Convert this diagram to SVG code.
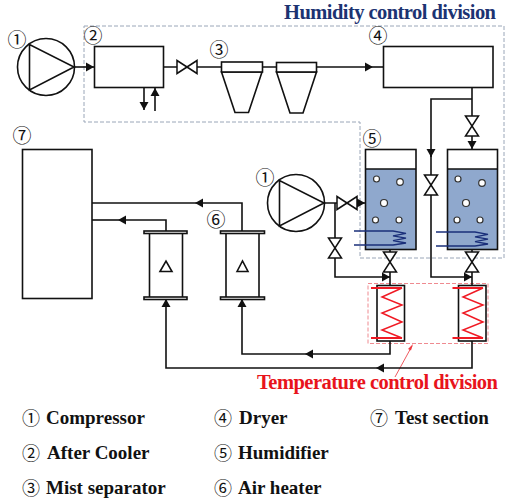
<svg xmlns="http://www.w3.org/2000/svg" width="505" height="501" viewBox="0 0 505 501">
<defs>
<style>
.s{fill:none;stroke:#111;stroke-width:1.6}
.w{fill:#fff;stroke:#111;stroke-width:1.6}
.b{fill:#fff;stroke:#333;stroke-width:1.2}
.n{font-family:"Noto Sans CJK JP","DejaVu Sans",sans-serif;font-size:19px;fill:#111;text-anchor:middle}
.t{font-family:"Liberation Serif",serif;font-weight:bold;font-size:19px;fill:#111}
.ln{font-family:"Noto Sans CJK JP","DejaVu Sans",sans-serif;font-size:18px;fill:#111}
.rb{stroke:#f01a24;stroke-width:2}
</style>
<marker id="a" markerWidth="9" markerHeight="10" refX="8" refY="5" orient="auto" markerUnits="userSpaceOnUse"><path d="M0,0.500L8,5L0,9.500Z" fill="#111"/></marker>
<path id="vh" d="M-10,-6.5L10,6.5V-6.5L-10,6.5Z" fill="#fff" stroke="#111" stroke-width="1.5"/>
<path id="vv" d="M-6.5,-10L6.5,10H-6.5L6.5,-10Z" fill="#fff" stroke="#111" stroke-width="1.5"/>
<path id="z" d="M0,0L-20,9L0,17L-20,25L0,34L-20,42L0,50" fill="none" stroke="#f01a24" stroke-width="1.5"/>
<path id="coil" d="M0,0H39L52,2.4L39,4.8L52,7.2L39,9.6L52,12L39,14H0" fill="none" stroke="#1a2f7a" stroke-width="1.3"/>
</defs>
<rect width="505" height="501" fill="#fff"/>
<g id="divisions">
<path d="M84,26H504V258H360V122H84Z" fill="none" stroke="#9aa6b8" stroke-width="1" stroke-dasharray="4 2"/>
<rect x="368" y="283.500" width="120" height="60" fill="none" stroke="#ef8a90" stroke-width="1" stroke-dasharray="4 2"/>
<path d="M395,377L412,346" fill="none" stroke="#ef5a60" stroke-width="1"/>
<path d="M413,344L411,350.500L408,349Z" fill="#ef3a40"/>
</g>
<g id="connectors">
<path class="s" d="M74,67H94" marker-end="url(#a)"/>
<path class="s" d="M163,67H177M197,67H221M262,67H276"/>
<path class="s" d="M144,87V110" marker-end="url(#a)"/>
<path class="s" d="M155,111V88" marker-end="url(#a)"/>
<path class="s" d="M316,67H373" marker-end="url(#a)"/>
<path class="s" d="M373,67H383"/>
<path class="s" d="M472,87V149" marker-end="url(#a)"/>
<path class="s" d="M472,99H431V157" marker-end="url(#a)"/>
<path class="s" d="M431,155V277H472" marker-end="url(#a)"/>
<path class="s" d="M324,203H365" marker-end="url(#a)"/>
<path class="s" d="M335,203V277H390" marker-end="url(#a)"/>
<path class="s" d="M390,250V285M472,250V285"/>
<path class="s" d="M242,232V203H195" marker-end="url(#a)"/>
<path class="s" d="M195,203H92"/>
<path class="s" d="M166,232V220H118" marker-end="url(#a)"/>
<path class="s" d="M118,220H92"/>
<path class="s" d="M390,341V354H305" marker-end="url(#a)"/>
<path class="s" d="M305,354H242V299" marker-end="url(#a)"/>
<path class="s" d="M472,341V368H376" marker-end="url(#a)"/>
<path class="s" d="M376,368H166V299" marker-end="url(#a)"/>
<use href="#vh" x="187" y="67"/>
<use href="#vh" x="347" y="203"/>
<use href="#vv" x="472" y="126"/>
<use href="#vv" x="431" y="185"/>
<use href="#vv" x="335" y="248"/>
<use href="#vv" x="390" y="262"/>
<use href="#vv" x="472" y="262"/>
</g>
<g id="compressor1">
<circle class="s" cx="46" cy="67" r="28.500"/>
<path class="s" d="M29.500,44.500V90L74,67Z"/>
<text class="n" x="17" y="47">①</text>
</g>
<g id="aftercooler">
<rect class="w" x="94.500" y="46.500" width="69" height="41"/>
<text class="n" x="93" y="43">②</text>
</g>
<g id="separator1">
<path class="w" d="M221.500,72L235,112.500H248.500L262,72Z"/>
<rect class="w" x="221.500" y="62" width="41" height="10"/>
<text class="n" x="219" y="57">③</text>
</g>
<g id="separator2">
<path class="w" d="M276.500,72L290,113H303L316.500,72Z"/>
<rect class="w" x="276.500" y="62.500" width="40" height="9.500"/>
</g>
<g id="dryer">
<rect class="w" x="383.500" y="46.500" width="109.500" height="41"/>
<text class="n" x="378" y="43">④</text>
</g>
<g id="humidifier1">
<rect x="365.500" y="169" width="50.500" height="80.500" fill="#8fa8cd"/>
<path class="s" d="M365.500,169H416"/>
<rect class="s" x="365.500" y="149.500" width="50.500" height="100"/>
<circle class="b" cx="376.500" cy="179" r="3"/><circle class="b" cx="400" cy="182" r="3.300"/><circle class="b" cx="384" cy="203" r="3.500"/><circle class="b" cx="375.500" cy="220" r="3"/><circle class="b" cx="399" cy="220" r="3"/>
<use href="#coil" x="354" y="231"/>
<text class="n" x="372" y="146">⑤</text>
</g>
<g id="humidifier2">
<rect x="447.500" y="169" width="50" height="80.500" fill="#8fa8cd"/>
<path class="s" d="M447.500,169H497.500"/>
<rect class="s" x="447.500" y="149.500" width="50" height="100"/>
<circle class="b" cx="458" cy="179" r="3"/><circle class="b" cx="482" cy="183" r="3.300"/><circle class="b" cx="466" cy="203" r="3.500"/><circle class="b" cx="457" cy="220" r="3"/><circle class="b" cx="480" cy="220" r="3"/>
<use href="#coil" x="436" y="232"/>
</g>
<g id="compressor2">
<circle class="s" cx="296" cy="203" r="28.500"/>
<path class="s" d="M279.500,180.500V226L324,203Z"/>
<text class="n" x="265" y="185">①</text>
</g>
<g id="testsection">
<rect class="w" x="22.500" y="149.500" width="69.500" height="149"/>
<text class="n" x="22" y="143">⑦</text>
</g>
<g id="airheater1">
<rect class="w" x="149.500" y="232" width="33" height="66"/>
<rect class="w" x="144" y="231" width="43" height="2.500"/>
<rect class="w" x="144" y="297" width="43" height="2.500"/>
<path class="s" d="M160,271.500L166,261L172,271.500Z"/>
</g>
<g id="airheater2">
<rect class="w" x="226" y="232" width="33" height="66"/>
<rect class="w" x="220.500" y="231" width="44" height="2.500"/>
<rect class="w" x="220.500" y="297" width="44" height="2.500"/>
<path class="s" d="M237,271.500L242.500,261L248,271.500Z"/>
<text class="n" x="216" y="227">⑥</text>
</g>
<g id="heater1">
<rect class="w" x="377" y="285.500" width="27.500" height="55.500"/>
<path class="rb" d="M371,288H402M371,338H402"/>
<use href="#z" x="402" y="288"/>
</g>
<g id="heater2">
<rect class="w" x="458.500" y="285.500" width="27.500" height="55.500"/>
<path class="rb" d="M452.500,288H483M452.500,338H483"/>
<use href="#z" x="483" y="288"/>
</g>
<g id="labels">
<text x="284" y="19" font-family="Liberation Serif,serif" font-weight="bold" font-size="20.500" fill="#1c3372" textLength="212" lengthAdjust="spacing">Humidity control division</text>
<text x="257" y="389" font-family="Liberation Serif,serif" font-weight="bold" font-size="20.500" fill="#e8141c" textLength="241" lengthAdjust="spacing">Temperature control division</text>
<text class="ln" x="22" y="425">①</text><text class="t" x="46" y="424">Compressor</text>
<text class="ln" x="22" y="460">②</text><text class="t" x="47" y="459">After Cooler</text>
<text class="ln" x="22" y="495">③</text><text class="t" x="46" y="494">Mist separator</text>
<text class="ln" x="214" y="425">④</text><text class="t" x="239" y="424">Dryer</text>
<text class="ln" x="214" y="460">⑤</text><text class="t" x="238" y="459">Humidifier</text>
<text class="ln" x="214" y="495">⑥</text><text class="t" x="238" y="494">Air heater</text>
<text class="ln" x="370" y="425">⑦</text><text class="t" x="395" y="424">Test section</text>
</g>
</svg>
